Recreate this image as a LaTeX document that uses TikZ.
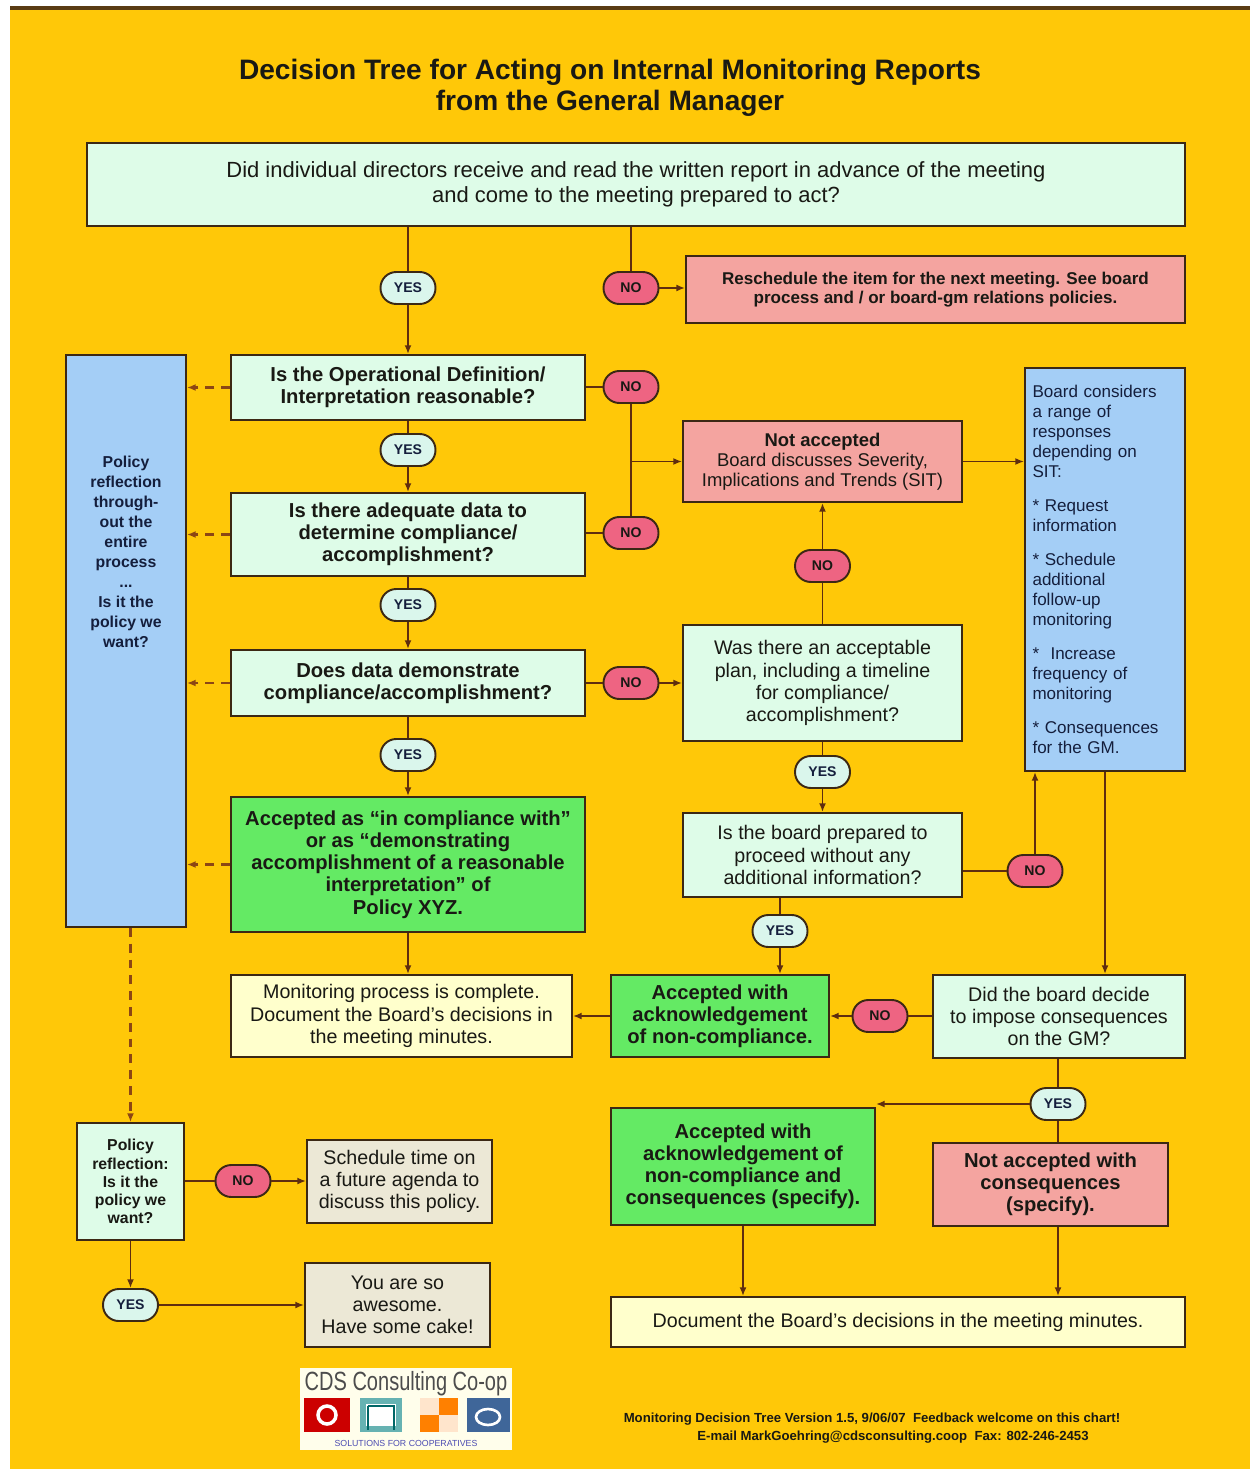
\documentclass[tikz,border=0pt]{standalone}
\usepackage{fontspec}
\setmainfont{Liberation Sans}
\usetikzlibrary{arrows.meta}
\definecolor{bgc}{RGB}{255,200,8}
\definecolor{topline}{RGB}{90,60,20}
\definecolor{bord}{RGB}{60,40,20}
\definecolor{lc}{RGB}{95,45,15}
\definecolor{dc}{RGB}{140,70,20}
\definecolor{mint}{RGB}{222,252,232}
\definecolor{pinkbox}{RGB}{244,164,160}
\definecolor{noc}{RGB}{238,100,130}
\definecolor{yesc}{RGB}{218,246,236}
\definecolor{grn}{RGB}{100,234,100}
\definecolor{lblue}{RGB}{164,206,246}
\definecolor{lyel}{RGB}{255,255,204}
\definecolor{beige}{RGB}{236,232,214}
\definecolor{txt}{RGB}{25,25,20}
\definecolor{navy}{RGB}{20,30,60}
\newcommand\fsTitle{\fontsize{16}{17.5}\selectfont\bfseries}
\newcommand\fsTop{\fontsize{12.5}{14}\selectfont}
\newcommand\fsBold{\fontsize{11.5}{12.6}\selectfont\bfseries}
\newcommand\fsReg{\fontsize{11.2}{12.6}\selectfont}
\newcommand\fsRes{\fontsize{9.7}{11}\selectfont\bfseries}
\newcommand\fsNa{\fontsize{10.5}{11.4}\selectfont}
\newcommand\fsBc{\fontsize{9.7}{11.4}\selectfont}
\newcommand\fsPan{\fontsize{9}{11.4}\selectfont\bfseries}
\newcommand\fsPr{\fontsize{9}{10.3}\selectfont\bfseries}
\newcommand\fsFoot{\fontsize{7.5}{9}\selectfont\bfseries}
\newcommand\fsOv{\fontsize{8}{9}\selectfont\bfseries}
\begin{document}
\begin{tikzpicture}[x=0.02cm,y=-0.02cm,
  box/.style={draw=bord, line width=1.1pt, align=center, inner sep=2pt, text=txt},
  mintbox/.style={box, fill=mint},
  pinkb/.style={box, fill=pinkbox},
  grnb/.style={box, fill=grn},
  blueb/.style={box, fill=lblue},
  yelb/.style={box, fill=lyel},
  beigeb/.style={box, fill=beige},
  ovl/.style={draw=bord, line width=1.1pt, rounded corners=9pt, minimum width=1.1cm, minimum height=0.64cm, inner sep=0pt, font=\fsOv},
  yesov/.style={ovl, fill=yesc, text=navy},
  noov/.style={ovl, fill=noc, text=txt},
  conn/.style={draw=lc, line width=1pt},
  arr/.style={conn, -{Latex[length=5pt,width=4pt]}},
  dsh/.style={arr, draw=dc, line width=1.2pt, dash pattern=on 5pt off 4pt}]
\useasboundingbox (0,0) rectangle (1250,1469);
\fill[white] (0,0) rectangle (1250,1469);
\fill[bgc] (10,8) rectangle (1250,1469);
\draw[topline, line width=2pt] (10,8) -- (1250,8);

% title
\node[font=\fsTitle, text=txt, align=center] (title) at (610,88) {Decision Tree for Acting on Internal Monitoring Reports\\from the General Manager};

% boxes
\node[mintbox, minimum width=21.96cm, minimum height=1.66cm, font=\fsTop] (top) at (636,184.5) {Did individual directors receive and read the written report in advance of the meeting\\and come to the meeting prepared to act?};
\node[pinkb, minimum width=9.98cm, minimum height=1.34cm, font=\fsRes] (resched) at (935.5,289.5) {Reschedule the item for the next meeting. See board\\process and / or board-gm relations policies.};
\node[blueb, minimum width=2.4cm, minimum height=11.44cm] (panel) at (126,641) {};
\node[font=\fsPan, text=navy, align=center] (ptxt) at (126,552) {Policy\\reflection\\through-\\out the\\entire\\process\\...\\Is it the\\policy we\\want?};
\node[mintbox, minimum width=7.08cm, minimum height=1.3cm, font=\fsBold] (q1) at (408,387.5) {Is the Operational Definition/\\Interpretation reasonable?};
\node[mintbox, minimum width=7.08cm, minimum height=1.66cm, font=\fsBold] (q2) at (408,534.5) {Is there adequate data to\\determine compliance/\\accomplishment?};
\node[mintbox, minimum width=7.08cm, minimum height=1.32cm, font=\fsBold] (q3) at (408,683) {Does data demonstrate\\compliance/accomplishment?};
\node[grnb, minimum width=7.08cm, minimum height=2.7cm, font=\fsBold] (a1) at (408,864.5) {Accepted as “in compliance with”\\or as “demonstrating\\accomplishment of a reasonable\\interpretation” of\\Policy XYZ.};
\node[yelb, minimum width=6.82cm, minimum height=1.64cm, font=\fsReg] (mon) at (401.5,1016) {Monitoring process is complete.\\Document the Board's decisions in\\the meeting minutes.};
\node[pinkb, minimum width=5.58cm, minimum height=1.62cm, font=\fsNa] (na) at (822.5,461.5) {\textbf{Not accepted}\\Board discusses Severity,\\Implications and Trends (SIT)};
\node[mintbox, minimum width=5.58cm, minimum height=2.32cm, font=\fsReg] (plan) at (822.5,683) {Was there an acceptable\\plan, including a timeline\\for compliance/\\accomplishment?};
\node[mintbox, minimum width=5.58cm, minimum height=1.68cm, font=\fsReg] (prep) at (822.5,855) {Is the board prepared to\\proceed without any\\additional information?};
\node[blueb, minimum width=3.2cm, minimum height=8.06cm, text width=2.9cm, align=left, inner sep=0.15cm, font=\fsBc, text=navy] (bc) at (1105,569.5) {Board considers\\a range of\\responses\\depending on\\SIT:\\[8pt]* Request\\information\\[8pt]* Schedule\\additional\\follow-up\\monitoring\\[8pt]*\ \ Increase\\frequency of\\monitoring\\[8pt]* Consequences\\for the GM.};
\node[grnb, minimum width=4.36cm, minimum height=1.64cm, font=\fsBold] (a3) at (720,1016) {Accepted with\\acknowledgement\\of non-compliance.};
\node[mintbox, minimum width=5.04cm, minimum height=1.66cm, font=\fsReg] (did) at (1059,1016.5) {Did the board decide\\to impose consequences\\on the GM?};
\node[grnb, minimum width=5.28cm, minimum height=2.34cm, font=\fsBold] (a4) at (743,1166.5) {Accepted with\\acknowledgement of\\non-compliance and\\consequences (specify).};
\node[pinkb, minimum width=4.7cm, minimum height=1.66cm, font=\fsBold] (nac) at (1050.5,1184.5) {Not accepted with\\consequences\\(specify).};
\node[yelb, minimum width=11.48cm, minimum height=1.0cm, font=\fsReg] (doc) at (898,1322) {Document the Board's decisions in the meeting minutes.};
\node[mintbox, minimum width=2.14cm, minimum height=2.34cm, font=\fsPr] (pr) at (130.5,1181.5) {Policy\\reflection:\\Is it the\\policy we\\want?};
\node[beigeb, minimum width=3.7cm, minimum height=1.66cm, font=\fsReg] (sched) at (399.5,1181.5) {Schedule time on\\a future agenda to\\discuss this policy.};
\node[beigeb, minimum width=3.7cm, minimum height=1.68cm, font=\fsReg] (cake) at (397.5,1305) {You are so\\awesome.\\Have some cake!};

% ovals
\node[yesov] (y0) at (408,288) {YES};
\node[noov] (n0) at (631,288) {NO};
\node[noov] (n1) at (631,387) {NO};
\node[yesov] (y1) at (408,450) {YES};
\node[noov] (n2) at (631,533) {NO};
\node[yesov] (y2) at (408,605) {YES};
\node[noov] (n3) at (631,683) {NO};
\node[noov] (n4) at (822.5,566) {NO};
\node[yesov] (y3) at (408,755) {YES};
\node[yesov] (y4) at (822.5,772) {YES};
\node[noov] (n5) at (1035,871) {NO};
\node[yesov] (y5) at (780,931) {YES};
\node[noov] (n6) at (880,1016) {NO};
\node[yesov] (y6) at (1058,1104) {YES};
\node[noov] (n7) at (243,1181) {NO};
\node[yesov] (y7) at (130.5,1305) {YES};

% connectors
\draw[conn] (y0 |- top.south) -- (y0);
\draw[arr] (y0) -- (q1);
\draw[conn] (n0 |- top.south) -- (n0);
\draw[arr] (n0) -- (resched.west |- n0);
\draw[conn] (q1) -- (y1);
\draw[arr] (y1) -- (q2);
\draw[conn] (q1.east |- n1) -- (n1);
\draw[conn] (q2.east |- n2) -- (n2);
\draw[conn] (n1) -- (n2);
\draw[arr] (n1 |- na.west) -- (na.west);
\draw[arr] (na.east) -- (bc.west |- na.east);
\draw[conn] (q2) -- (y2);
\draw[arr] (y2) -- (q3);
\draw[conn] (q3.east |- n3) -- (n3);
\draw[arr] (n3) -- (plan.west |- n3);
\draw[conn] (plan) -- (n4);
\draw[arr] (n4) -- (na);
\draw[conn] (q3) -- (y3);
\draw[arr] (y3) -- (a1);
\draw[dsh] (q1.west) -- (panel.east |- q1.west);
\draw[dsh] (q2.west) -- (panel.east |- q2.west);
\draw[dsh] (q3.west) -- (panel.east |- q3.west);
\draw[dsh] (a1.west) -- (panel.east |- a1.west);
\draw[conn] (plan) -- (y4);
\draw[arr] (y4) -- (prep);
\draw[conn] (prep.east |- n5) -- (n5);
\draw[arr] (n5) -- (n5 |- bc.south);
\draw[arr] (bc.south) -- (bc.south |- did.north);
\draw[conn] (y5 |- prep.south) -- (y5);
\draw[arr] (y5) -- (y5 |- a3.north);
\draw[arr] (a1.south) -- (a1.south |- mon.north);
\draw[arr] (a3.west) -- (mon.east |- a3.west);
\draw[conn] (did.west |- n6) -- (n6);
\draw[arr] (n6) -- (a3.east |- n6);
\draw[conn] (y6 |- did.south) -- (y6);
\draw[arr] (y6) -- (a4.north east |- y6);
\draw[conn] (y6) -- (y6 |- nac.north);
\draw[arr] (a4.south) -- (a4.south |- doc.north);
\draw[arr] (y6 |- nac.south) -- (y6 |- doc.north);
\draw[dsh] (pr |- panel.south) -- (pr.north);
\draw[conn] (pr.east |- n7) -- (n7);
\draw[arr] (n7) -- (sched.west |- n7);
\draw[arr] (pr.south) -- (y7);
\draw[arr] (y7) -- (cake.west |- y7);

% logo
\node[fill=white!92!yellow, minimum width=4.24cm, minimum height=1.64cm, inner sep=0pt] (logo) at (406,1409) {};
\node[font=\fontsize{15}{16}\selectfont, text=black!70, inner sep=0pt] (logotxt) at (406,1384) {\scalebox{0.76}[1]{CDS Consulting Co-op}};
\fill[red!80!black] (304,1398) rectangle (350,1432);
\draw[white, line width=2pt] (327,1415) circle (9);
\fill[teal!60!white] (360,1398) rectangle (402,1432);
\fill[white] (366,1404) rectangle (396,1426);
\draw[teal!80!black, line width=1.2pt] (368,1406) -- (368,1430) (368,1406) -- (394,1406) -- (394,1430);
\fill[orange] (420,1398) rectangle (458,1432);
\fill[white!80!orange] (420,1398) rectangle (439,1415);
\fill[white!80!orange] (439,1415) rectangle (458,1432);
\fill[cyan!50!blue!70!black] (467,1398) rectangle (510,1432);
\draw[white, line width=1.5pt] (488,1417) ellipse (12 and 8);
\node[font=\fontsize{5}{6}\selectfont, text=blue!40!gray, inner sep=0pt] (logosub) at (406,1443) {SOLUTIONS FOR COOPERATIVES};

% footer
\node[font=\fsFoot, text=txt] (f1) at (872,1419) {Monitoring Decision Tree Version 1.5, 9/06/07\ \ Feedback welcome on this chart!};
\node[font=\fsFoot, text=txt] (f2) at (893,1437) {E-mail MarkGoehring@cdsconsulting.coop\ \ Fax: 802-246-2453};
\end{tikzpicture}
\end{document}
